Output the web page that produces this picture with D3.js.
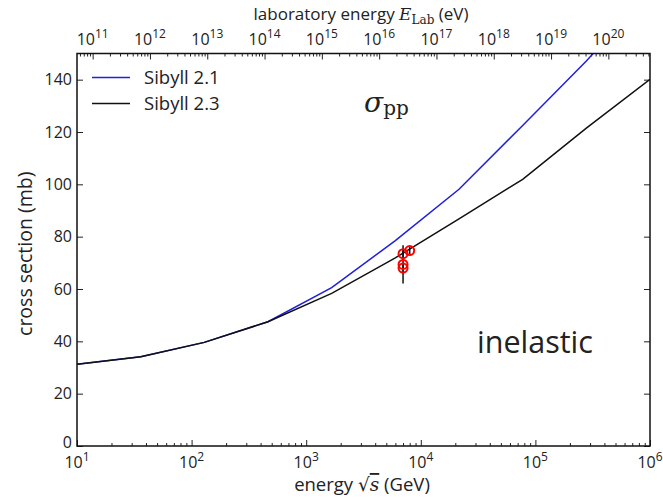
<!DOCTYPE html>
<html>
<head>
<meta charset="utf-8">
<script src="https://cdn.jsdelivr.net/npm/d3@7"></script>
<style>
  body { margin: 0; background: #fff; }
  svg { display: block; }
  text { font-family: "Open Sans", sans-serif; fill: #222; }
  .math { font-family: "DejaVu Serif", "Liberation Serif", serif; }
</style>
</head>
<body>
<div id="chart"></div>
<script>
// sqrt(s) in GeV, log spaced grid of the model tables
const energies = [10, 36, 129, 464, 1668, 5995, 21544, 77426, 278256, 1000000];
const sibyll21 = [31.2, 34.1, 39.6, 47.5, 60.5, 78.5, 98.1, 122.5, 147.1, 174];
const sibyll23 = [31.2, 34.1, 39.6, 47.5, 58.3, 71.9, 86.8, 101.9, 121.5, 140.1];

// LHC measurements: sqrt(s) GeV, sigma mb, error mb
const measEnergy = [7000, 7000, 7000, 8000];
const measSigma = [73.5, 69.4, 68.0, 74.7];
const measErr = [1.6, 7.3, 2.0, 1.7];

const yTicks = [0, 20, 40, 60, 80, 100, 120, 140];
const bottomExps = [1, 2, 3, 4, 5, 6];
const topExps = [11, 12, 13, 14, 15, 16, 17, 18, 19, 20];

const W = 663, H = 498;
const margin = {left: 77, right: 13, top: 53.5, bottom: 52};
const mp = 0.938;

const svg = d3.select("#chart").append("svg")
    .attr("width", W).attr("height", H);

const x = d3.scaleLog().domain([10, 1e6]).range([margin.left, W - margin.right]);
const y = d3.scaleLinear().domain([0, 150]).range([H - margin.bottom, margin.top]);
// lab energy in eV, E = s / (2 m)
const labE = e => e * e / (2 * mp) * 1e9;
const xTop = d3.scaleLog().domain([labE(10), labE(1e6)]).range(x.range());

svg.append("clipPath").attr("id", "clip").append("rect")
    .attr("x", margin.left).attr("y", margin.top)
    .attr("width", W - margin.left - margin.right)
    .attr("height", H - margin.top - margin.bottom);

// ticks
function logMinor(lo, hi) {
    const out = [];
    for (let p = Math.floor(Math.log10(lo)); p <= Math.ceil(Math.log10(hi)); p++) {
        for (let k = 2; k <= 9; k++) {
            const v = k * Math.pow(10, p);
            if (v > lo && v < hi) out.push(v);
        }
    }
    return out;
}

const gb = svg.append("g").attr("transform", `translate(0,${y(0)})`);
gb.call(d3.axisTop(x).tickValues(bottomExps.map(e => Math.pow(10, e))).tickSize(6).tickFormat(""));
gb.append("g").call(d3.axisTop(x).tickValues(logMinor(10, 1e6)).tickSize(3).tickFormat(""));
gb.selectAll(".domain").remove();

const gt = svg.append("g").attr("transform", `translate(0,${margin.top})`);
gt.call(d3.axisBottom(xTop).tickValues(topExps.map(e => Math.pow(10, e))).tickSize(6).tickFormat(""));
gt.append("g").call(d3.axisBottom(xTop).tickValues(logMinor(labE(10), labE(1e6))).tickSize(3).tickFormat(""));
gt.selectAll(".domain").remove();

const gl = svg.append("g").attr("transform", `translate(${margin.left},0)`);
gl.call(d3.axisRight(y).tickValues(yTicks).tickSize(6).tickFormat(""));
gl.selectAll(".domain").remove();
const gr = svg.append("g").attr("transform", `translate(${W - margin.right},0)`);
gr.call(d3.axisLeft(y).tickValues(yTicks).tickSize(6).tickFormat(""));
gr.selectAll(".domain").remove();
svg.selectAll(".tick line").attr("stroke", "#222").attr("stroke-width", 1);

// tick labels
yTicks.forEach(v => {
    svg.append("text").attr("x", margin.left - 5).attr("y", y(v) + (v === 0 ? 2 : 5.5))
        .attr("text-anchor", "end").attr("font-size", 16).text(v);
});

function powLabel(g, px, py, exp) {
    const t = g.append("text").attr("x", px).attr("y", py)
        .attr("text-anchor", "middle").attr("font-size", 16);
    t.append("tspan").text("10");
    t.append("tspan").attr("dy", -7).attr("font-size", 12).text(exp);
}
bottomExps.forEach(e => powLabel(svg, x(Math.pow(10, e)), 468, e));
topExps.forEach(e => powLabel(svg, xTop(Math.pow(10, e)), 45, e));

// curves
const line = d3.line().x((d, i) => x(energies[i])).y(d => y(d));
const plot = svg.append("g").attr("clip-path", "url(#clip)");
plot.append("path").datum(sibyll21).attr("d", line)
    .attr("fill", "none").attr("stroke", "#1f1fe0").attr("stroke-width", 1.5);
plot.append("path").datum(sibyll23).attr("d", line)
    .attr("fill", "none").attr("stroke", "#111").attr("stroke-width", 1.5);

// data points
measEnergy.forEach((e, i) => {
    plot.append("line")
        .attr("x1", x(e)).attr("x2", x(e))
        .attr("y1", y(measSigma[i] - measErr[i])).attr("y2", y(measSigma[i] + measErr[i]))
        .attr("stroke", "#111").attr("stroke-width", 1.5);
});
measEnergy.forEach((e, i) => {
    plot.append("circle").attr("cx", x(e)).attr("cy", y(measSigma[i])).attr("r", 4.5)
        .attr("fill", "none").attr("stroke", "#f00").attr("stroke-width", 2);
});

// frame
svg.append("rect").attr("x", margin.left).attr("y", margin.top)
    .attr("width", W - margin.left - margin.right)
    .attr("height", H - margin.top - margin.bottom)
    .attr("fill", "none").attr("stroke", "#111").attr("stroke-width", 1.5);

// legend
const legend = [{name: "Sibyll 2.1", color: "#1f1fe0"}, {name: "Sibyll 2.3", color: "#111"}];
legend.forEach((d, i) => {
    const ly = 77.5 + i * 26;
    svg.append("line").attr("x1", 92).attr("x2", 130).attr("y1", ly).attr("y2", ly)
        .attr("stroke", d.color).attr("stroke-width", 1.5);
    svg.append("text").attr("x", 144).attr("y", ly + 6.5).attr("font-size", 18.5).text(d.name);
});

// annotations
const sig = svg.append("text").attr("x", 364).attr("y", 112).attr("class", "math");
sig.append("tspan").attr("font-size", 28).attr("font-style", "italic").text("σ");
sig.append("tspan").attr("font-size", 20).attr("dy", 3).text("pp");

svg.append("text").attr("x", 477).attr("y", 353).attr("font-size", 30.5).text("inelastic");

// axis titles
const xl = svg.append("text").attr("x", 362).attr("y", 491)
    .attr("text-anchor", "middle").attr("font-size", 18.5);
xl.append("tspan").text("energy ");
xl.append("tspan").attr("class", "math").text("√");
xl.append("tspan").attr("class", "math").attr("font-style", "italic")
    .style("text-decoration", "overline").text("s");
xl.append("tspan").text(" (GeV)");

const tl = svg.append("text").attr("x", 361).attr("y", 19.5)
    .attr("text-anchor", "middle").attr("font-size", 17);
tl.append("tspan").text("laboratory energy ");
tl.append("tspan").attr("class", "math").attr("font-style", "italic").text("E");
tl.append("tspan").attr("class", "math").attr("font-size", 12).attr("dy", 4).text("Lab");
tl.append("tspan").attr("dy", -4).text(" (eV)");

svg.append("text").attr("transform", `translate(32,${(margin.top + y(0)) / 2 + 4}) rotate(-90)`)
    .attr("text-anchor", "middle").attr("font-size", 19.5).text("cross section (mb)");
</script>
</body>
</html>
